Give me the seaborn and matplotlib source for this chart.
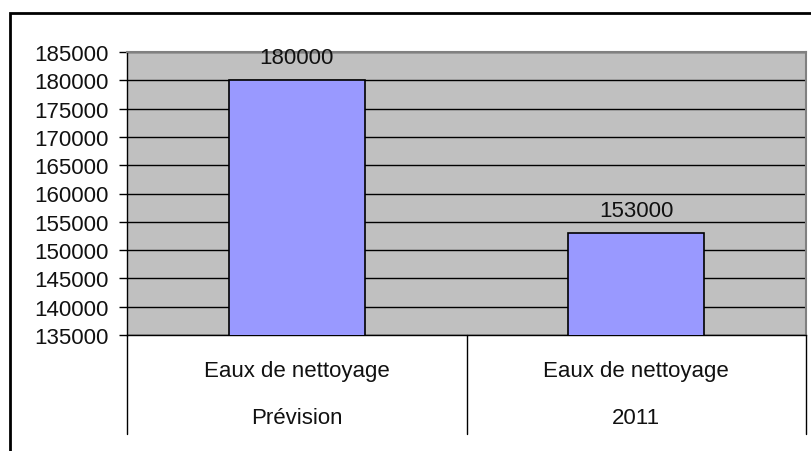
# Eaux de nettoyage : prévision vs 2011
import matplotlib
matplotlib.use("Agg")
import matplotlib.pyplot as plt
import seaborn as sns
import pandas as pd
from matplotlib.patches import Rectangle

# %%
# Data
groups = ['Eaux de nettoyage', 'Eaux de nettoyage']
periods = ['Prévision', '2011']
volumes = [180000, 153000]
y_ticks = list(range(135000, 185001, 5000))

df = pd.DataFrame({'periode': periods, 'volume': volumes})

# %%
sns.set_style("white")
plt.rcParams['font.family'] = ['Liberation Sans', 'DejaVu Sans']
fs = 16

fig = plt.figure(figsize=(8.11, 4.52), dpi=100)
W, H = 811, 452
ax = fig.add_axes([127 / W, (H - 336) / H, (806 - 127) / W, (336 - 53) / H])
ax.set_facecolor('#C0C0C0')

sns.barplot(data=df, x='periode', y='volume', color='#9999FF', edgecolor='black',
            linewidth=1.2, width=0.4, saturation=1, ax=ax, zorder=3)

ax.set_ylim(135000, 185000)
ax.set_xlim(-0.5, 1.5)
ax.set_yticks(y_ticks)
ax.set_yticklabels([str(v) for v in y_ticks], fontsize=fs, color='#111111')
ax.yaxis.grid(True, color='black', linewidth=1)
ax.set_axisbelow(True)
ax.tick_params(axis='y', direction='out', length=6, width=1, color='black', pad=7, left=True)
ax.tick_params(axis='x', bottom=False, labelbottom=False)
ax.set_xlabel('')
ax.set_ylabel('')

for side in ['top', 'right']:
    ax.spines[side].set_color('#808080')
    ax.spines[side].set_linewidth(1.5)
for side in ['left', 'bottom']:
    ax.spines[side].set_color('black')
    ax.spines[side].set_linewidth(1)

# value labels
ax.bar_label(ax.containers[0], labels=[str(v) for v in volumes], padding=9, fontsize=fs,
             color='#111111', zorder=5)

# two-level category axis
tr = ax.get_xaxis_transform()
for i, (g, p) in enumerate(zip(groups, periods)):
    ax.text(i, -0.127, g, transform=tr, ha='center', va='center', fontsize=fs, color='#111111')
    ax.text(i, -0.29, p, transform=tr, ha='center', va='center', fontsize=fs, color='#111111')
for xs in [-0.5, 0.5, 1.5]:
    ax.plot([xs, xs], [0, -(435 - 336) / (336 - 53)], transform=tr, color='black',
            linewidth=1, clip_on=False)

# chart frame
fig.patches.append(Rectangle((10 / W, -0.1), 2, 1.1 - 14 / H, transform=fig.transFigure,
                             fill=False, edgecolor='black', linewidth=2))

fig.savefig('out.png', dpi=100)
